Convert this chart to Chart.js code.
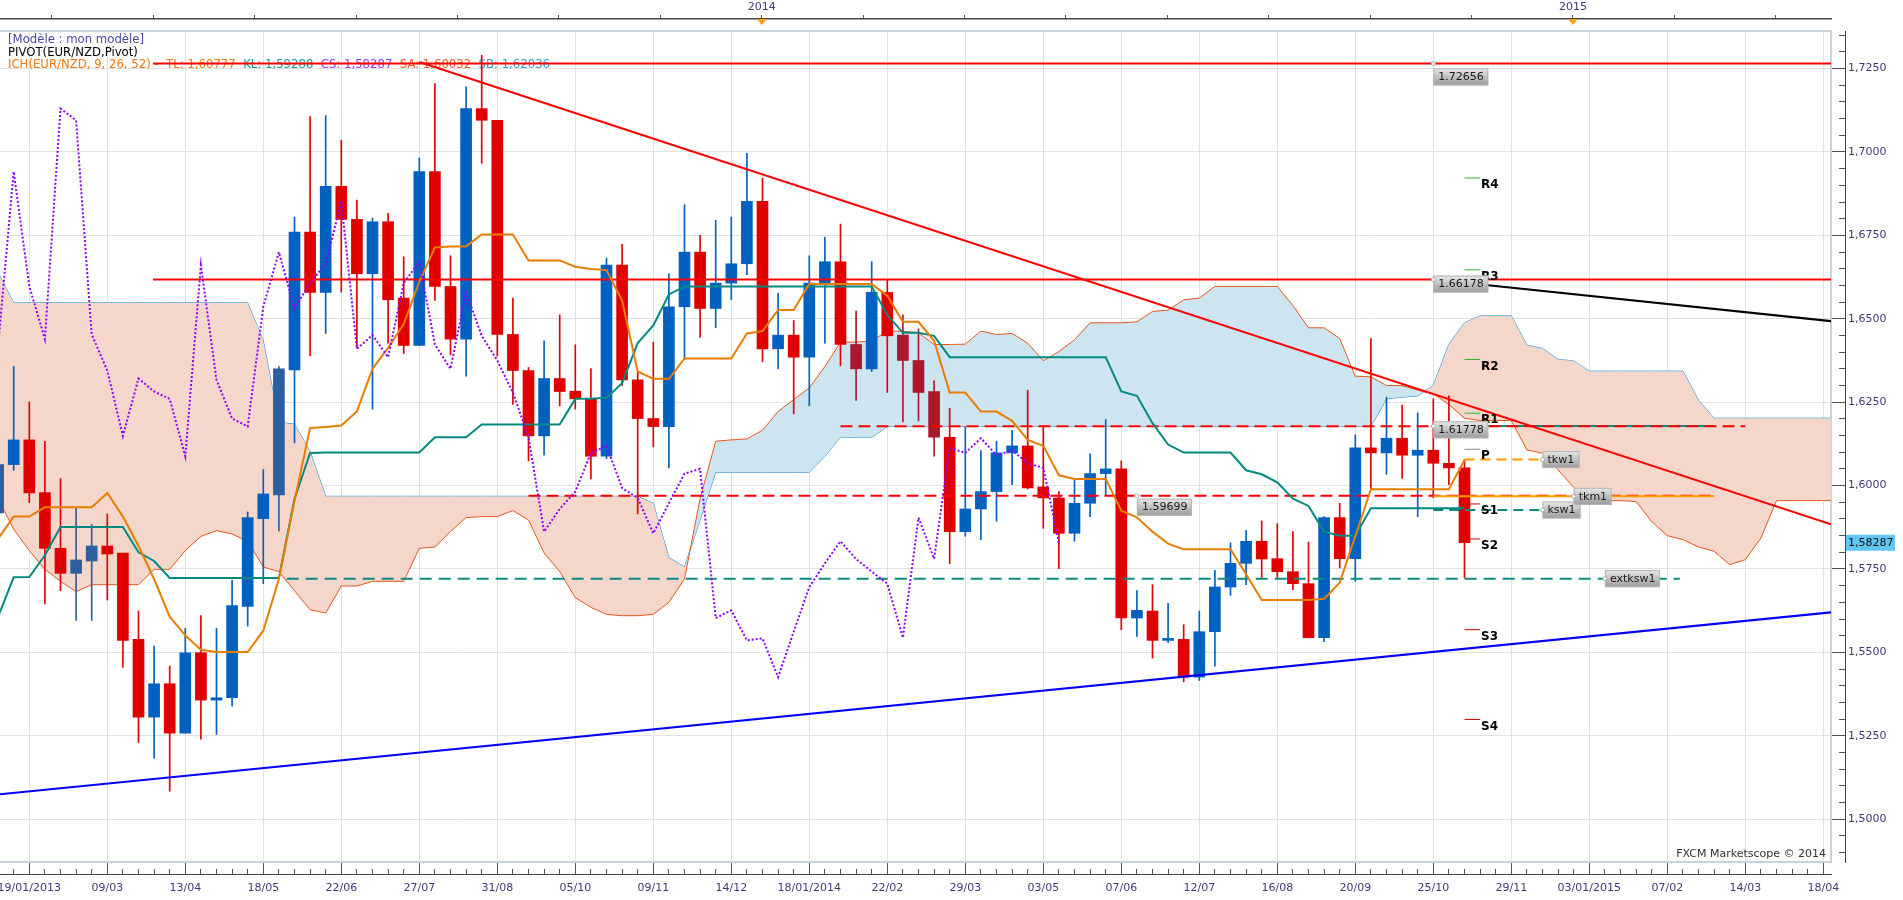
<!DOCTYPE html>
<html>
<head>
<meta charset="utf-8">
<title>EUR/NZD weekly - Ichimoku</title>
<script src="https://cdn.jsdelivr.net/npm/chart.js@4.4.1/dist/chart.umd.min.js"></script>
<style>
  html, body { margin: 0; padding: 0; background: #fff; }
  #wrap { width: 1903px; height: 900px; }
</style>
</head>
<body>
<div id="wrap"><canvas id="chart" width="1903" height="900"></canvas></div>
<script>
// -----------------------------
// Weekly candles, week 0 = 19/01/2013
// -----------------------------
const opens = [
  1.5918,1.6063,1.6137,1.5979,1.5812,1.5737,1.5774,1.5819,1.5798,1.5539,
  1.5306,1.5406,1.5258,1.5499,1.5357,1.5364,1.5638,1.5901,1.5972,1.6347,
  1.6760,1.6579,1.6897,1.6798,1.6635,1.6791,1.6562,1.6420,1.6941,1.6597,
  1.6439,1.7130,1.7095,1.6453,1.6345,1.6149,1.6321,1.6283,1.6260,1.6088,
  1.6661,1.6317,1.6201,1.6177,1.6536,1.6700,1.6531,1.6607,1.6665,1.6852,
  1.6410,1.6451,1.6385,1.6607,1.6671,1.6423,1.6350,1.6579,1.6451,1.6375,
  1.6282,1.6145,1.5862,1.5930,1.5982,1.6098,1.6119,1.5996,1.5963,1.5857,
  1.5947,1.6036,1.6050,1.5603,1.5624,1.5536,1.5539,1.5426,1.5562,1.5696,
  1.5767,1.5833,1.5781,1.5742,1.5706,1.5544,1.5904,1.5781,1.6113,1.6098,
  1.6142,1.6091,1.6106,1.6067,1.6053
];
const highs = [
  1.6080,1.6357,1.6251,1.6133,1.6021,1.5932,1.5883,1.5915,1.5798,1.5624,
  1.5519,1.5459,1.5572,1.5610,1.5572,1.5716,1.5921,1.6048,1.6357,1.6805,
  1.7106,1.7109,1.7035,1.6856,1.6802,1.6816,1.6686,1.6982,1.7205,1.6689,
  1.7195,1.7290,1.7095,1.6562,1.6354,1.6434,1.6512,1.6422,1.6351,1.6682,
  1.6724,1.6342,1.6430,1.6635,1.6842,1.6750,1.6795,1.6805,1.6996,1.6922,
  1.6576,1.6495,1.6689,1.6745,1.6784,1.6523,1.6671,1.6618,1.6512,1.6470,
  1.6314,1.6232,1.6176,1.6105,1.6133,1.6166,1.6286,1.6180,1.5982,1.6017,
  1.6095,1.6198,1.6074,1.5685,1.5703,1.5647,1.5583,1.5624,1.5746,1.5829,
  1.5865,1.5894,1.5886,1.5862,1.5831,1.5907,1.5947,1.6152,1.6441,1.6265,
  1.6241,1.6218,1.6260,1.6269,1.6077
];
const lows = [
  1.5900,1.6046,1.5949,1.5645,1.5685,1.5596,1.5596,1.5657,1.5455,1.5230,
  1.5183,1.5084,1.5258,1.5240,1.5254,1.5339,1.5579,1.5706,1.5864,1.6128,
  1.6389,1.6456,1.6580,1.6413,1.6229,1.6427,1.6396,1.6420,1.6555,1.6392,
  1.6328,1.6966,1.6388,1.6243,1.6074,1.6091,1.6239,1.6229,1.6020,1.6081,
  1.6300,1.5915,1.6116,1.6053,1.6378,1.6444,1.6473,1.6557,1.6632,1.6371,
  1.6350,1.6215,1.6239,1.6427,1.6359,1.6255,1.6342,1.6279,1.6191,1.6194,
  1.6088,1.5766,1.5848,1.5838,1.5893,1.6003,1.5990,1.5872,1.5751,1.5833,
  1.5907,1.5972,1.5568,1.5548,1.5483,1.5529,1.5412,1.5416,1.5459,1.5671,
  1.5703,1.5725,1.5725,1.5688,1.5544,1.5532,1.5753,1.5713,1.5990,1.6034,
  1.6022,1.5907,1.5964,1.6003,1.5723
];
const closes = [
  1.6063,1.6137,1.5978,1.5812,1.5737,1.5777,1.5819,1.5795,1.5536,1.5306,
  1.5406,1.5258,1.5499,1.5357,1.5364,1.5640,1.5904,1.5975,1.6350,1.6760,
  1.6579,1.6897,1.6798,1.6635,1.6791,1.6557,1.6420,1.6941,1.6597,1.6439,
  1.7130,1.7095,1.6453,1.6345,1.6149,1.6321,1.6282,1.6260,1.6088,1.6661,
  1.6317,1.6201,1.6177,1.6536,1.6700,1.6531,1.6607,1.6665,1.6852,1.6410,
  1.6451,1.6385,1.6607,1.6671,1.6423,1.6350,1.6579,1.6449,1.6375,1.6279,
  1.6145,1.5862,1.5930,1.5982,1.6098,1.6119,1.5993,1.5963,1.5857,1.5947,
  1.6036,1.6050,1.5603,1.5626,1.5536,1.5542,1.5426,1.5562,1.5696,1.5767,
  1.5833,1.5780,1.5742,1.5706,1.5544,1.5904,1.5781,1.6113,1.6098,1.6142,
  1.6091,1.6106,1.6067,1.6053,1.58287
];

// -----------------------------
// Ichimoku (9, 26, 52)
// -----------------------------
const tenkan = [
  1.5841,1.5907,1.5907,1.5935,1.5935,1.5935,1.5935,1.5978,1.5907,1.5819,
  1.5720,1.5607,1.5551,1.5508,1.5501,1.5501,1.5501,1.5565,1.5720,1.5954,
  1.6173,1.6176,1.6180,1.6222,1.6350,1.6413,1.6484,1.6611,1.6714,1.6717,
  1.6717,1.6753,1.6753,1.6753,1.6675,1.6675,1.6675,1.6656,1.6649,1.6646,
  1.6555,1.6342,1.6320,1.6320,1.6381,1.6381,1.6381,1.6381,1.6456,1.6463,
  1.6526,1.6526,1.6604,1.6604,1.6604,1.6604,1.6604,1.6569,1.6491,1.6491,
  1.6434,1.6279,1.6279,1.6222,1.6222,1.6194,1.6137,1.6119,1.6031,1.6020,
  1.6020,1.6020,1.5925,1.5905,1.5862,1.5826,1.5809,1.5809,1.5809,1.5809,
  1.5734,1.5657,1.5657,1.5657,1.5657,1.5661,1.5709,1.5848,1.5989,1.5989,
  1.5989,1.5989,1.5989,1.5989,1.6077
];
const kijun = [
  1.5607,1.5725,1.5726,1.5791,1.5876,1.5876,1.5876,1.5876,1.5876,1.5800,
  1.5774,1.5723,1.5723,1.5723,1.5723,1.5723,1.5723,1.5723,1.5723,1.5960,
  1.6098,1.6099,1.6099,1.6099,1.6099,1.6099,1.6099,1.6099,1.6145,1.6145,
  1.6145,1.6183,1.6183,1.6183,1.6183,1.6183,1.6183,1.6260,1.6260,1.6263,
  1.6307,1.6427,1.6480,1.6573,1.6597,1.6597,1.6597,1.6597,1.6597,1.6597,
  1.6597,1.6597,1.6597,1.6597,1.6597,1.6597,1.6597,1.6512,1.6458,1.6458,
  1.6449,1.6385,1.6385,1.6385,1.6385,1.6385,1.6385,1.6385,1.6385,1.6385,
  1.6385,1.6385,1.6282,1.6269,1.6187,1.6123,1.6099,1.6099,1.6099,1.6099,
  1.6046,1.6034,1.6010,1.5961,1.5939,1.5862,1.5850,1.5850,1.5932,1.5932,
  1.5932,1.5932,1.5932,1.5932,1.5932
];
// cloud runs 26 weeks past the last candle
const senkouA = [
  1.5961,1.5869,1.5805,1.5749,1.5713,1.5682,1.5703,1.5703,1.5703,1.5703,
  1.5749,1.5749,1.5805,1.5848,1.5865,1.5855,1.5833,1.5756,1.5742,1.5685,
  1.5628,1.5618,1.5699,1.5699,1.5713,1.5713,1.5713,1.5812,1.5816,1.5862,
  1.5904,1.5907,1.5907,1.5925,1.5897,1.5798,1.5742,1.5664,1.5635,1.5614,
  1.5610,1.5610,1.5614,1.5650,1.5720,1.5961,1.6133,1.6137,1.6140,1.6166,
  1.6222,1.6258,1.6293,1.6357,1.6430,1.6430,1.6434,1.6463,1.6463,1.6458,
  1.6423,1.6423,1.6424,1.6463,1.6453,1.6456,1.6427,1.6374,1.6402,1.6437,
  1.6488,1.6488,1.6488,1.6491,1.6522,1.6526,1.6557,1.6562,1.6597,1.6597,
  1.6597,1.6597,1.6597,1.6540,1.6473,1.6473,1.6441,1.6328,1.6326,1.6300,
  1.6300,1.6286,1.6275,1.6243,1.6202,1.6195,1.6195,1.6195,1.6107,1.6097,
  1.6047,1.5995,1.5957,1.5955,1.5955,1.5952,1.5892,1.5850,1.5838,1.5816,
  1.5803,1.5763,1.5778,1.5843,1.5955,1.5955,1.5955,1.5955,1.5955
];
const senkouB = [
  1.6639,1.6548,1.6548,1.6548,1.6548,1.6548,1.6548,1.6548,1.6548,1.6548,
  1.6548,1.6548,1.6548,1.6548,1.6548,1.6548,1.6548,1.6434,1.6190,1.6184,
  1.6102,1.5968,1.5968,1.5968,1.5968,1.5968,1.5968,1.5968,1.5968,1.5968,
  1.5968,1.5968,1.5968,1.5968,1.5968,1.5968,1.5968,1.5968,1.5968,1.5968,
  1.5968,1.5968,1.5947,1.5784,1.5756,1.5897,1.6040,1.6040,1.6040,1.6040,
  1.6040,1.6040,1.6040,1.6088,1.6145,1.6145,1.6145,1.6177,1.6177,1.6177,
  1.6177,1.6177,1.6177,1.6177,1.6177,1.6177,1.6177,1.6177,1.6177,1.6177,
  1.6177,1.6177,1.6177,1.6177,1.6177,1.6177,1.6177,1.6177,1.6177,1.6177,
  1.6177,1.6177,1.6177,1.6177,1.6177,1.6177,1.6177,1.6177,1.6177,1.6260,
  1.6265,1.6269,1.6300,1.6424,1.6488,1.6509,1.6509,1.6509,1.6421,1.6411,
  1.6378,1.6374,1.6343,1.6343,1.6343,1.6343,1.6343,1.6343,1.6343,1.6256,
  1.6202,1.6202,1.6202,1.6202,1.6202,1.6202,1.6202,1.6202,1.6202
];
const chikouShift = 26;

// -----------------------------
// Drawn levels and trend lines (week, price)
// -----------------------------
const redLevels = [1.72656, 1.66178];
const redLevelFrom = 9.93;
const dashLevels = [1.61778, 1.59699];
const dashFrom = [54, 34];
const dashTo = [112, 110];
const tkw1 = 1.6078, ksw1 = 1.5927, tkm1 = 1.5968, ksm1 = 1.6179, extksw1 = 1.5721;

const redTrendWeeks = [27, 117.5];
const redTrendPrices = [1.7270, 1.5884];
const blueTrendWeeks = [0, 117.5];
const blueTrendPrices = [1.5074, 1.5620];
const blackTrendWeeks = [92, 117.5];
const blackTrendPrices = [1.66178, 1.6493];

const pivotNames = ['R4', 'R3', 'R2', 'R1', 'P', 'S1', 'S2', 'S3', 'S4'];
const pivotValues = [1.6922, 1.6647, 1.6378, 1.6217, 1.6109, 1.5945, 1.5840, 1.5568, 1.5299];

const tagValues = [1.72656, 1.66178, 1.61778, 1.59699];
const tagWeeks = [92, 92, 92, 73];
const nameTags = ['tkw1', 'ksw1', 'tkm1', 'extksw1'];
const nameValues = [tkw1, ksw1, tkm1, extksw1];
const nameWeeks = [99, 99, 101, 103];

// -----------------------------
// Axis labels
// -----------------------------
const dateLabels = ['19/01/2013', '09/03', '13/04', '18/05', '22/06', '27/07', '31/08', '05/10',
  '09/11', '14/12', '18/01/2014', '22/02', '29/03', '03/05', '07/06', '12/07', '16/08',
  '20/09', '25/10', '29/11', '03/01/2015', '07/02', '14/03', '18/04'];
const yearLabels = ['2014', '2015'];
const yearTickIndex = [7, 15];
const priceMajors = [1.500, 1.525, 1.550, 1.575, 1.600, 1.625, 1.650, 1.675, 1.700, 1.725];

// -----------------------------
// Styling / helpers
// -----------------------------
const FONT = '"DejaVu Sans", Verdana, sans-serif';
const AXIS_TXT = '#3b3b78';
const BLUE = '#0061c1', BLUE_DK = '#2d5e9f', RED = '#e10000', RED_DK = '#a9192b';
const darkCandles = [0, 5, 6, 18, 55, 58, 59, 60];
const xMin = 0.122, xMax = 117.494;
const yMin = 1.48717, yMax = 1.73627;

const weeks = opens.map((_, i) => i);
const majorWeeks = dateLabels.map((_, k) => 2 + 5 * k);
const topWeeks = [];
for (let k = 0; k < 18; k++) topWeeks.push(3.45 + 6.5 * k);
const minorWeeks = [];
for (let w = 1; w <= 117; w++) minorWeeks.push(w);
const minorPrices = [];
for (let k = 0; k <= 49; k++) minorPrices.push(Math.round((1.490 + k * 0.005) * 1000) / 1000);

function pts(xs, ys) { return xs.map((x, k) => ({ x: x, y: ys[k] })); }
function flat(x1, x2, v) { return [{ x: x1, y: v }, { x: x2, y: v }]; }
function series(arr) { return arr.map((v, i) => ({ x: i, y: v })); }

function lineDs(data, color, width, order, extra) {
  return Object.assign({
    type: 'line', data: data, borderColor: color, borderWidth: width,
    pointRadius: 0, pointHoverRadius: 0, fill: false, tension: 0,
    order: order, xAxisID: 'x', yAxisID: 'y'
  }, extra || {});
}

const candleColors = weeks.map(i => {
  const up = closes[i] >= opens[i];
  const dark = darkCandles.indexOf(i) >= 0;
  return up ? (dark ? BLUE_DK : BLUE) : (dark ? RED_DK : RED);
});

const chikouData = closes.slice(chikouShift).map((v, k) => ({ x: k, y: v }));

const datasets = [
  // 0: senkou B, 1: senkou A filled against it
  lineDs(series(senkouB), '#1f8fd0', 1, 101),
  lineDs(series(senkouA), '#e8561c', 1, 100, {
    fill: { target: 0, above: '#cde4f1', below: '#f5d6ca' }
  }),
  {
    type: 'bar', data: weeks.map(i => ({ x: i, y: [lows[i], highs[i]] })),
    backgroundColor: candleColors, barThickness: 1, grouped: false,
    order: 60, xAxisID: 'x', yAxisID: 'y'
  },
  {
    type: 'bar', data: weeks.map(i => ({ x: i, y: [opens[i], closes[i]] })),
    backgroundColor: candleColors, barThickness: 11, minBarLength: 2, grouped: false,
    order: 59, xAxisID: 'x', yAxisID: 'y'
  },
  lineDs(flat(redLevelFrom, 118, redLevels[0]), '#ff0000', 2, 30),
  lineDs(flat(redLevelFrom, 118, redLevels[1]), '#ff0000', 2, 30),
  lineDs(flat(94, 110, ksm1), '#0a8a80', 2, 33),
  lineDs(flat(dashFrom[0], dashTo[0], dashLevels[0]), '#ff0000', 2, 32, { borderDash: [12, 6] }),
  lineDs(flat(dashFrom[1], dashTo[1], dashLevels[1]), '#ff0000', 2, 32, { borderDash: [12, 6] }),
  lineDs(flat(92, 110, tkm1), '#ff9a00', 2, 31),
  lineDs(flat(18.5, 107.8, extksw1), '#0a8a80', 2, 31, { borderDash: [12, 7] }),
  lineDs(flat(94, 99, tkw1), '#ff9a00', 2, 31, { borderDash: [10, 6] }),
  lineDs(flat(92, 99, ksw1), '#0a8a80', 2, 31, { borderDash: [10, 6] }),
  lineDs(pts(blueTrendWeeks, blueTrendPrices), '#0000ff', 2, 25),
  lineDs(pts(redTrendWeeks, redTrendPrices), '#ff0000', 2, 25),
  lineDs(pts(blackTrendWeeks, blackTrendPrices), '#000000', 2, 25),
  lineDs(series(kijun), '#008a80', 2, 12),
  lineDs(series(tenkan), '#e87d00', 2, 11),
  lineDs(chikouData, '#8f00ff', 2, 10, { borderDash: [2, 2] })
];
pivotNames.forEach((n, k) => {
  const c = n[0] === 'R' ? '#2db52d' : (n === 'P' ? '#8c8c8c' : '#d40000');
  datasets.push(lineDs(flat(94, 95, pivotValues[k]), c, 1, 5));
});

// -----------------------------
// Texts and tags
// -----------------------------
const legendTop = '[Modèle : mon modèle]';
const legendPivot = 'PIVOT(EUR/NZD,Pivot)';
const ichParts = ['ICH(EUR/NZD, 9, 26, 52) -  TL: 1,60777  ', 'KL: 1,59288  ', 'CS: 1,58287  ', 'SA: 1,60032  ', 'SB: 1,62036'];
const ichColors = ['#f07a10', '#1a9a96', '#9a33ff', '#f05a28', '#3a9ad2'];
const LEGEND_FONT = '11.7px ' + FONT;

function tagBox(ctx, x, top, text) {
  ctx.font = '11px ' + FONT;
  const w = Math.round(ctx.measureText(text).width + 10), h = 17;
  const g = ctx.createLinearGradient(0, top, 0, top + h);
  g.addColorStop(0, '#e8e8e8');
  g.addColorStop(1, '#9a9a9a');
  ctx.fillStyle = g;
  ctx.fillRect(x, top, w, h);
  ctx.strokeStyle = '#b4b4b4';
  ctx.lineWidth = 1;
  ctx.strokeRect(x + 0.5, top + 0.5, w - 1, h - 1);
  ctx.fillStyle = '#1a1a1a';
  ctx.textAlign = 'left';
  ctx.textBaseline = 'middle';
  ctx.fillText(text, x + 5, top + h / 2 + 0.5);
}
function anchorDot(ctx, x, y) {
  ctx.beginPath();
  ctx.arc(x, y, 2, 0, Math.PI * 2);
  ctx.fillStyle = '#ffffff';
  ctx.fill();
  ctx.strokeStyle = '#9a9a9a';
  ctx.lineWidth = 0.8;
  ctx.stroke();
}

const overlay = {
  id: 'overlay',
  beforeDatasetsDraw(chart) {
    const ctx = chart.ctx;
    ctx.save();
    ctx.font = LEGEND_FONT;
    ctx.textBaseline = 'middle';
    ctx.textAlign = 'left';
    ctx.fillStyle = '#4a4aa0';
    ctx.fillText(legendTop, 8, 40);
    ctx.fillStyle = '#000000';
    ctx.fillText(legendPivot, 8, 52.5);
    let x = 8;
    ichParts.forEach((p, k) => {
      ctx.fillStyle = ichColors[k];
      ctx.fillText(p, x, 65);
      x += ctx.measureText(p).width;
    });
    ctx.restore();
  },
  afterDatasetsDraw(chart) {
    const ctx = chart.ctx;
    const xs = chart.scales.x, ys = chart.scales.y;
    ctx.save();
    // pivot names
    ctx.font = 'bold 12px ' + FONT;
    ctx.fillStyle = '#000000';
    ctx.textAlign = 'left';
    ctx.textBaseline = 'middle';
    pivotNames.forEach((n, k) => {
      ctx.fillText(n, xs.getPixelForValue(95) + 1, ys.getPixelForValue(pivotValues[k]) + 7);
    });
    // price tags
    const tagDy = [5, -4, -5, 3];
    tagValues.forEach((v, k) => {
      const px = xs.getPixelForValue(tagWeeks[k]);
      const py = ys.getPixelForValue(v);
      tagBox(ctx, px, py + tagDy[k], v.toFixed(5));
      anchorDot(ctx, px, py);
    });
    // indicator name tags
    nameTags.forEach((n, k) => {
      const px = xs.getPixelForValue(nameWeeks[k]);
      const py = ys.getPixelForValue(nameValues[k]);
      tagBox(ctx, px, py - 8.5, n);
      anchorDot(ctx, px, py);
    });
    // watermark
    ctx.font = '11px ' + FONT;
    ctx.fillStyle = '#333333';
    ctx.textAlign = 'right';
    ctx.fillText('FXCM Marketscope © 2014', chart.chartArea.right - 5, chart.chartArea.bottom - 8);
    ctx.restore();
  },
  afterDraw(chart) {
    const ctx = chart.ctx;
    const ys = chart.scales.y, top = chart.scales.xTop;
    ctx.save();
    // current price on the axis
    const last = closes[closes.length - 1];
    const py = ys.getPixelForValue(last);
    ctx.fillStyle = '#62c6f4';
    ctx.fillRect(1846, py - 8, 49, 16);
    ctx.font = '11px ' + FONT;
    ctx.fillStyle = '#111111';
    ctx.textAlign = 'left';
    ctx.textBaseline = 'middle';
    ctx.fillText(last.toFixed(5).replace('.', ','), 1848, py + 0.5);
    // year markers
    ctx.fillStyle = '#f7a21b';
    yearTickIndex.forEach(k => {
      const px = top.getPixelForValue(topWeeks[k]);
      ctx.beginPath();
      ctx.moveTo(px - 5, top.bottom);
      ctx.lineTo(px + 5, top.bottom);
      ctx.lineTo(px, top.bottom + 6);
      ctx.closePath();
      ctx.fill();
    });
    ctx.restore();
  }
};

function noPad(s) {
  s.paddingLeft = 0; s.paddingRight = 0; s.paddingTop = 0; s.paddingBottom = 0;
}
const tickFont = { family: FONT, size: 11 };

new Chart(document.getElementById('chart'), {
  type: 'line',
  data: { datasets: datasets },
  plugins: [overlay],
  options: {
    responsive: false,
    animation: false,
    devicePixelRatio: 1,
    events: [],
    layout: { padding: 0 },
    plugins: { legend: { display: false }, tooltip: { enabled: false } },
    scales: {
      x: {
        type: 'linear', position: 'bottom', weight: 0, min: xMin, max: xMax,
        bounds: 'data', offset: false,
        afterBuildTicks: s => { s.ticks = majorWeeks.map(v => ({ value: v })); },
        afterFit: s => { s.height = 12; noPad(s); },
        ticks: { display: false, autoSkip: false },
        grid: { color: '#e1e1e1', lineWidth: 1, tickLength: 12, tickColor: '#555555', offset: false },
        border: { color: '#c9d3de', width: 2 }
      },
      xLab: {
        type: 'linear', position: 'bottom', weight: 1, min: xMin, max: xMax,
        bounds: 'data', offset: false,
        afterBuildTicks: s => { s.ticks = minorWeeks.map(v => ({ value: v })); },
        afterFit: s => { s.height = 26; noPad(s); },
        ticks: {
          autoSkip: false, maxRotation: 0, minRotation: 0, padding: 13,
          font: tickFont, color: AXIS_TXT,
          callback: v => ((v - 2) % 5 === 0 && v >= 2) ? dateLabels[(v - 2) / 5] : ''
        },
        grid: { drawOnChartArea: false, tickLength: -5, tickColor: '#555555', offset: false },
        border: { color: '#444444', width: 1 }
      },
      xGap: {
        type: 'linear', position: 'top', weight: 0, min: xMin, max: xMax,
        bounds: 'data', offset: false,
        afterBuildTicks: s => { s.ticks = []; },
        afterFit: s => { s.height = 12; noPad(s); },
        ticks: { display: false },
        grid: { drawOnChartArea: false, drawTicks: false },
        border: { color: '#c9d3de', width: 2 }
      },
      xTop: {
        type: 'linear', position: 'top', weight: 1, min: xMin, max: xMax,
        bounds: 'data', offset: false,
        afterBuildTicks: s => { s.ticks = topWeeks.map(v => ({ value: v })); },
        afterFit: s => { s.height = 19; noPad(s); },
        ticks: {
          autoSkip: false, maxRotation: 0, minRotation: 0, padding: 1,
          font: tickFont, color: AXIS_TXT,
          callback: (v, idx) => {
            const k = yearTickIndex.indexOf(idx);
            return k >= 0 ? yearLabels[k] : '';
          }
        },
        grid: { drawOnChartArea: false, tickLength: 4, tickColor: '#555555' },
        border: { color: '#444444', width: 1.5 }
      },
      y: {
        type: 'linear', position: 'right', weight: 0, min: yMin, max: yMax,
        bounds: 'data', beginAtZero: false,
        afterBuildTicks: s => { s.ticks = priceMajors.map(v => ({ value: v })); },
        afterFit: s => { s.width = 14; noPad(s); },
        ticks: { display: false, autoSkip: false },
        grid: { color: '#e1e1e1', lineWidth: 1, tickLength: 14, tickColor: '#555555' },
        border: { color: '#c9d3de', width: 2 }
      },
      yLab: {
        type: 'linear', position: 'right', weight: 1, min: yMin, max: yMax,
        bounds: 'data', beginAtZero: false,
        afterBuildTicks: s => { s.ticks = minorPrices.map(v => ({ value: v })); },
        afterFit: s => { s.width = 58; noPad(s); },
        ticks: {
          autoSkip: false, padding: 9, font: tickFont, color: AXIS_TXT,
          callback: v => priceMajors.some(m => Math.abs(m - v) < 1e-6) ? v.toFixed(4).replace('.', ',') : ''
        },
        grid: { drawOnChartArea: false, tickLength: -6, tickColor: '#555555' },
        border: { color: '#444444', width: 1 }
      }
    }
  }
});
</script>
</body>
</html>
